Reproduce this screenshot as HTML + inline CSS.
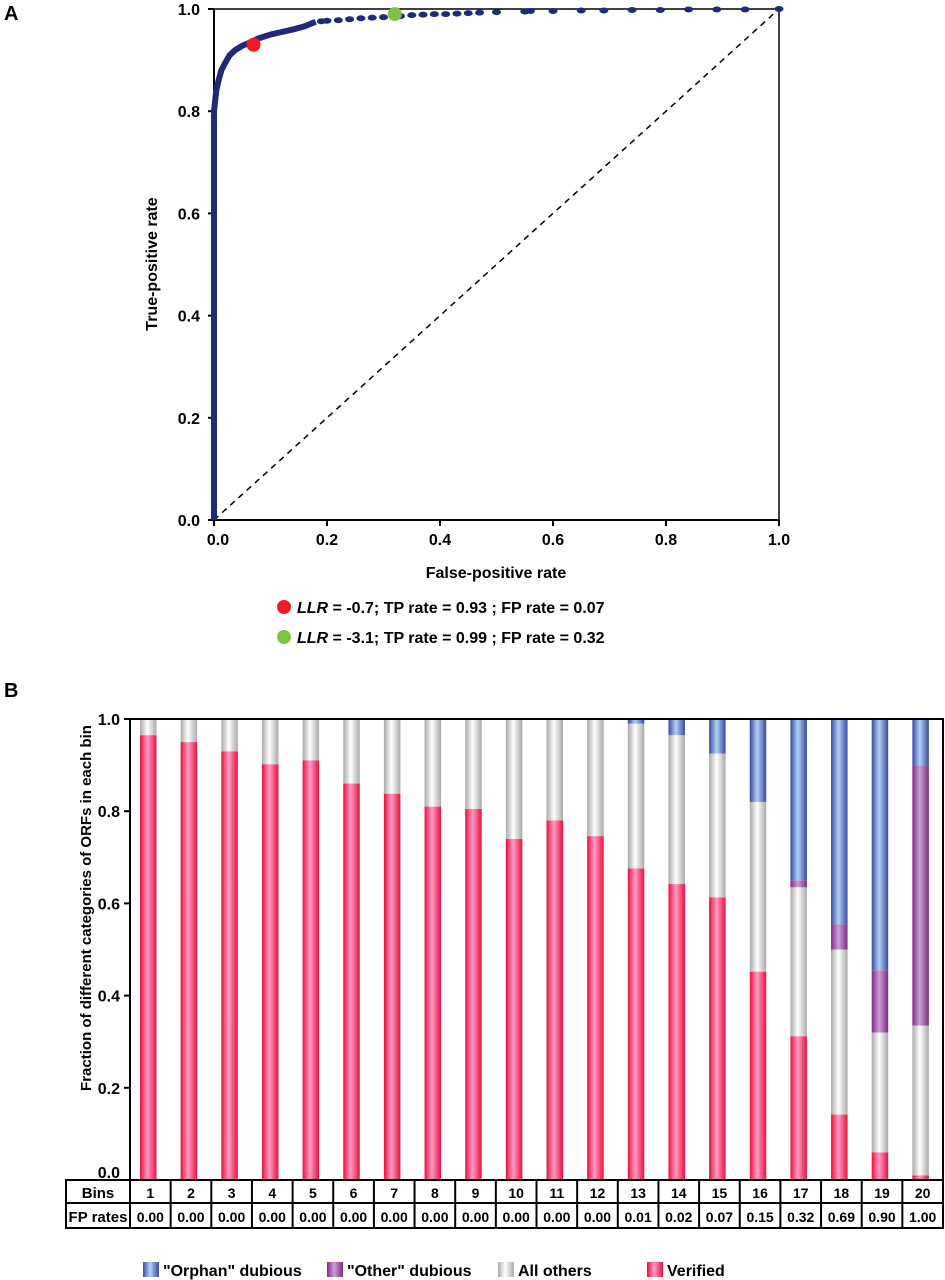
<!DOCTYPE html>
<html><head><meta charset="utf-8"><style>
html,body{margin:0;padding:0;background:#fff;}
svg{display:block;font-family:"Liberation Sans",Arial,sans-serif;font-weight:bold;}
</style></head><body>
<svg id="fig" width="945" height="1280" viewBox="0 0 945 1280" xmlns="http://www.w3.org/2000/svg">
<defs>
<linearGradient id="gV" x1="0" x2="1"><stop offset="0" stop-color="#e8103c"/><stop offset="0.45" stop-color="#ff9cc6"/><stop offset="1" stop-color="#e8103c"/></linearGradient>
<linearGradient id="gA" x1="0" x2="1"><stop offset="0" stop-color="#a9a9a9"/><stop offset="0.45" stop-color="#ffffff"/><stop offset="1" stop-color="#a9a9a9"/></linearGradient>
<linearGradient id="gD" x1="0" x2="1"><stop offset="0" stop-color="#7e2a86"/><stop offset="0.45" stop-color="#caa0d2"/><stop offset="1" stop-color="#7e2a86"/></linearGradient>
<linearGradient id="gO" x1="0" x2="1"><stop offset="0" stop-color="#3b4aa0"/><stop offset="0.45" stop-color="#b0d2f4"/><stop offset="1" stop-color="#3b4aa0"/></linearGradient>
</defs>
<text x="4" y="20" font-size="20">A</text>
<text x="4" y="697" font-size="20">B</text>
<g id="roc"></g>
<g id="bars"></g>
</svg>
<script>
const NS='http://www.w3.org/2000/svg';
function mk(p,t,a){const e=document.createElementNS(NS,t);for(const k in a)e.setAttribute(k,a[k]);p.appendChild(e);return e;}

// ---------- Panel A data ----------
const rocFpr=[0,0,0.002,0.004,0.008,0.013,0.02,0.028,0.038,0.05,0.065,0.08,0.1,0.12,0.14,0.16,0.18];
const rocTpr=[0,0.8,0.82,0.84,0.86,0.88,0.895,0.91,0.92,0.928,0.935,0.943,0.95,0.955,0.96,0.966,0.975];
const sparseFpr=[0.19,0.2,0.22,0.24,0.26,0.28,0.3,0.33,0.35,0.37,0.39,0.41,0.43,0.45,0.47,0.5,0.55,0.56,0.6,0.65,0.69,0.74,0.79,0.84,0.89,0.94,1.0];
const sparseTpr=[0.976,0.977,0.978,0.98,0.982,0.983,0.984,0.986,0.988,0.989,0.99,0.99,0.991,0.992,0.993,0.994,0.995,0.996,0.996,0.997,0.997,0.998,0.998,0.999,0.999,0.999,1.0];
const axisTicks=[0,0.2,0.4,0.6,0.8,1.0];
const tickLabels=['0.0','0.2','0.4','0.6','0.8','1.0'];
const hlFpr=[0.07,0.32], hlTpr=[0.93,0.99], hlColors=['#ee1c24','#7dc242'];

const ax=v=>214+v*565, ay=v=>520-v*511;
const A=document.getElementById('roc');
let e;
e=mk(A,'path',{d:`M${ax(0)},${ay(1)}H${ax(1)}V${ay(0)}`,fill:'none',stroke:'#000','stroke-width':1.5});

e=mk(A,'line',{x1:ax(0),y1:ay(0),x2:ax(1),y2:ay(1),stroke:'#000','stroke-width':1.5,'stroke-dasharray':'6,5'});

e=mk(A,'line',{x1:ax(0),y1:ay(0),x2:ax(0),y2:ay(1),stroke:'#000','stroke-width':2});

e=mk(A,'line',{x1:ax(0),y1:ay(0),x2:ax(1),y2:ay(0),stroke:'#000','stroke-width':2});

axisTicks.forEach((t,i)=>{
 let l=mk(A,'line',{x1:ax(0)-6,x2:ax(0),y1:ay(t),y2:ay(t),stroke:'#000','stroke-width':2});
 
 let tx=mk(A,'text',{x:ax(0)-14,y:ay(t)+6,'font-size':16,'text-anchor':'end'});tx.textContent=tickLabels[i];
 
 l=mk(A,'line',{x1:ax(t),x2:ax(t),y1:ay(0),y2:ay(0)+6,stroke:'#000','stroke-width':2});
 
 tx=mk(A,'text',{x:ax(t)+(i==0?4:0),y:ay(0)+25,'font-size':16,'text-anchor':'middle'});tx.textContent=tickLabels[i];
 
});
let d='M'+rocFpr.map((f,i)=>ax(f)+','+ay(rocTpr[i])).join('L');
e=mk(A,'path',{d:d,fill:'none',stroke:'#1f2a78','stroke-width':6,'stroke-linejoin':'round'});

sparseFpr.forEach((f,i)=>{const c=mk(A,'ellipse',{cx:ax(f),cy:ay(sparseTpr[i]),rx:4.5,ry:3,fill:'#1f2a78'});
 });
hlFpr.forEach((f,i)=>{const c=mk(A,'circle',{cx:ax(f),cy:ay(hlTpr[i]),r:7,fill:hlColors[i]});
 });
e=mk(A,'text',{x:496,y:578,'font-size':16,'text-anchor':'middle'});e.textContent='False-positive rate';

e=mk(A,'text',{x:157,y:264,'font-size':16,'text-anchor':'middle',transform:'rotate(-90 157 264)'});e.textContent='True-positive rate';

const legA=[['-0.7','0.93','0.07'],['-3.1','0.99','0.32']];
legA.forEach((r,i)=>{const y=608+i*30;
 let c=mk(A,'circle',{cx:284,cy:y-1,r:7,fill:hlColors[i]});
 let t=mk(A,'text',{x:297,y:y+5,'font-size':16});
 t.setAttribute('xml:space','preserve');
 t.innerHTML=`<tspan font-style="italic">LLR</tspan>  = ${r[0]}; TP rate = ${r[1]} ; FP rate = ${r[2]}`;
 });

// ---------- Panel B data ----------
const bins=['1','2','3','4','5','6','7','8','9','10','11','12','13','14','15','16','17','18','19','20'];
const fpRates=['0.00','0.00','0.00','0.00','0.00','0.00','0.00','0.00','0.00','0.00','0.00','0.00','0.01','0.02','0.07','0.15','0.32','0.69','0.90','1.00'];
const verified=[0.965,0.95,0.93,0.902,0.91,0.86,0.838,0.81,0.805,0.74,0.78,0.746,0.676,0.642,0.613,0.452,0.312,0.142,0.06,0.01];
const allOthers=[0.035,0.05,0.07,0.098,0.09,0.14,0.162,0.19,0.195,0.26,0.22,0.254,0.314,0.323,0.312,0.368,0.323,0.358,0.26,0.325];
const otherDubious=[0,0,0,0,0,0,0,0,0,0,0,0,0,0,0,0,0.015,0.055,0.135,0.565];
const orphanDubious=[0,0,0,0,0,0,0,0,0,0,0,0,0.01,0.035,0.075,0.18,0.35,0.445,0.545,0.10];
const yTicksB=[0,0.2,0.4,0.6,0.8,1.0];

const B=document.getElementById('bars');
const x0=130,x1=943,colW=(x1-x0)/bins.length;
const by=v=>1180-v*461;
const series=[[verified,'url(#gV)','bar-verified'],[allOthers,'url(#gA)','bar-all-others'],[otherDubious,'url(#gD)','bar-other-dubious'],[orphanDubious,'url(#gO)','bar-orphan-dubious']];
bins.forEach((b,i)=>{let cum=0;const bx=x0+i*colW+10;
 series.forEach(s=>{const v=s[0][i];if(v>0){
  const r=mk(B,'rect',{x:bx,y:by(cum+v),width:16.5,height:by(cum)-by(cum+v),fill:s[1]});
  }
  cum+=v;});
});
e=mk(B,'path',{d:`M${x0},${by(0)}V${by(1)}H${x1}V${by(0)}`,fill:'none',stroke:'#000','stroke-width':2});

yTicksB.forEach((t,i)=>{
 let l=mk(B,'line',{x1:x0-6,x2:x0,y1:by(t),y2:by(t),stroke:'#000','stroke-width':2});
 
 let tx=mk(B,'text',{x:120,y:by(t)+(i==0?-2:6),'font-size':16,'text-anchor':'end'});tx.textContent=tickLabels[i];
 });
e=mk(B,'text',{x:91,y:908,'font-size':15,'text-anchor':'middle',transform:'rotate(-90 91 908)'});
e.textContent='Fraction of different categories of ORFs in each bin';

// table
e=mk(B,'rect',{x:66,y:1180,width:x1-66,height:48,fill:'none',stroke:'#000','stroke-width':2});

e=mk(B,'line',{x1:66,x2:x1,y1:1203,y2:1203,stroke:'#000','stroke-width':2});

e=mk(B,'text',{x:98,y:1198,'font-size':15,'text-anchor':'middle'});e.textContent='Bins';

e=mk(B,'text',{x:98,y:1222,'font-size':15,'text-anchor':'middle'});e.textContent='FP rates';

bins.forEach((b,i)=>{const cx=x0+i*colW;
 let l=mk(B,'line',{x1:cx,x2:cx,y1:1180,y2:1228,stroke:'#000','stroke-width':2});
 
 let t=mk(B,'text',{x:cx+colW/2,y:1198,'font-size':14,'text-anchor':'middle'});t.textContent=b;
 
 t=mk(B,'text',{x:cx+colW/2,y:1222,'font-size':14,'text-anchor':'middle'});t.textContent=fpRates[i];
 });
// legend
const legB=[[143,'url(#gO)','"Orphan" dubious'],[327,'url(#gD)','"Other" dubious'],[498,'url(#gA)','All others'],[647,'url(#gV)','Verified']];
legB.forEach(l=>{
 let r=mk(B,'rect',{x:l[0],y:1262,width:16,height:15,fill:l[1]});
 
 let t=mk(B,'text',{x:l[0]+20,y:1276,'font-size':16});t.textContent=l[2];
 });
</script>
</body></html>
